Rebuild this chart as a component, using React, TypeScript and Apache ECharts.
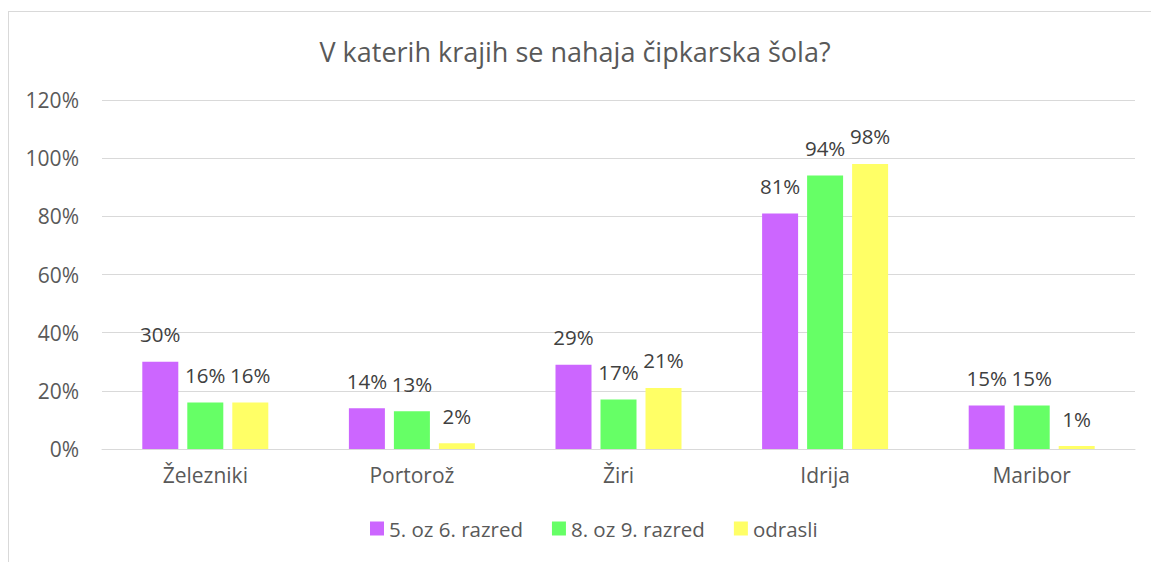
import React, { useEffect, useRef } from "react";
import * as echarts from "echarts";

const categories = ["Železniki", "Portorož", "Žiri", "Idrija", "Maribor"];
const seriesNames = ["5. oz 6. razred", "8. oz 9. razred", "odrasli"];
const grade56 = [30, 14, 29, 81, 15];
const grade89 = [16, 13, 17, 94, 15];
const adults = [16, 2, 21, 98, 1];
const colors = ["#CC66FF", "#66FF66", "#FFFF66"];
const FONT = "'Open Sans', sans-serif";

export default function App() {
  const ref = useRef<HTMLDivElement>(null);
  useEffect(() => {
    if (!ref.current) return;
    const chart = echarts.init(ref.current, undefined, { renderer: "svg" });
    const dataSets = [grade56, grade89, adults];
    chart.setOption({
      animation: false,
      textStyle: { fontFamily: FONT },
      title: {
        text: "V katerih krajih se nahaja čipkarska šola?",
        left: 561,
        textAlign: "center",
        top: 21,
        textStyle: { fontFamily: FONT, fontSize: 27, fontWeight: "normal", color: "#595959" },
      },
      legend: {
        top: 501,
        left: 356,
        itemWidth: 14,
        itemHeight: 14,
        itemGap: 29,
        icon: "rect",
        textStyle: { fontFamily: FONT, fontSize: 20.5, color: "#595959" },
        data: seriesNames,
      },
      grid: { left: 93, right: 16, top: 88, bottom: 113, containLabel: false },
      xAxis: {
        type: "category",
        data: categories,
        axisLine: { lineStyle: { color: "#D9D9D9", width: 1 } },
        axisTick: { show: false },
        axisLabel: { fontFamily: FONT, fontSize: 21, color: "#595959", margin: 15 },
      },
      yAxis: {
        type: "value",
        min: 0,
        max: 120,
        interval: 20,
        axisLine: { show: false },
        axisTick: { show: false },
        splitLine: { lineStyle: { color: "#D9D9D9", width: 1 } },
        axisLabel: {
          fontFamily: FONT,
          fontSize: 21,
          color: "#595959",
          margin: 23,
          formatter: (v: number) => v + "%",
        },
      },
      series: seriesNames.map((name, i) => ({
        name,
        type: "bar",
        data: dataSets[i],
        barWidth: 36,
        barGap: "25%",
        itemStyle: { color: colors[i] },
        label: {
          show: true,
          position: "top",
          distance: 17,
          fontFamily: FONT,
          fontSize: 20.5,
          color: "#404040",
          formatter: (p: any) => p.value + "%",
        },
      })),
    });
    return () => chart.dispose();
  }, []);
  return (
    <div
      style={{
        position: "absolute",
        left: 8,
        top: 11,
        width: 1143,
        height: 551,
        boxSizing: "border-box",
        borderTop: "1px solid #D9D9D9",
        borderLeft: "1px solid #D9D9D9",
        background: "#fff",
      }}
    >
      <div ref={ref} style={{ width: 1142, height: 550 }} />
    </div>
  );
}
